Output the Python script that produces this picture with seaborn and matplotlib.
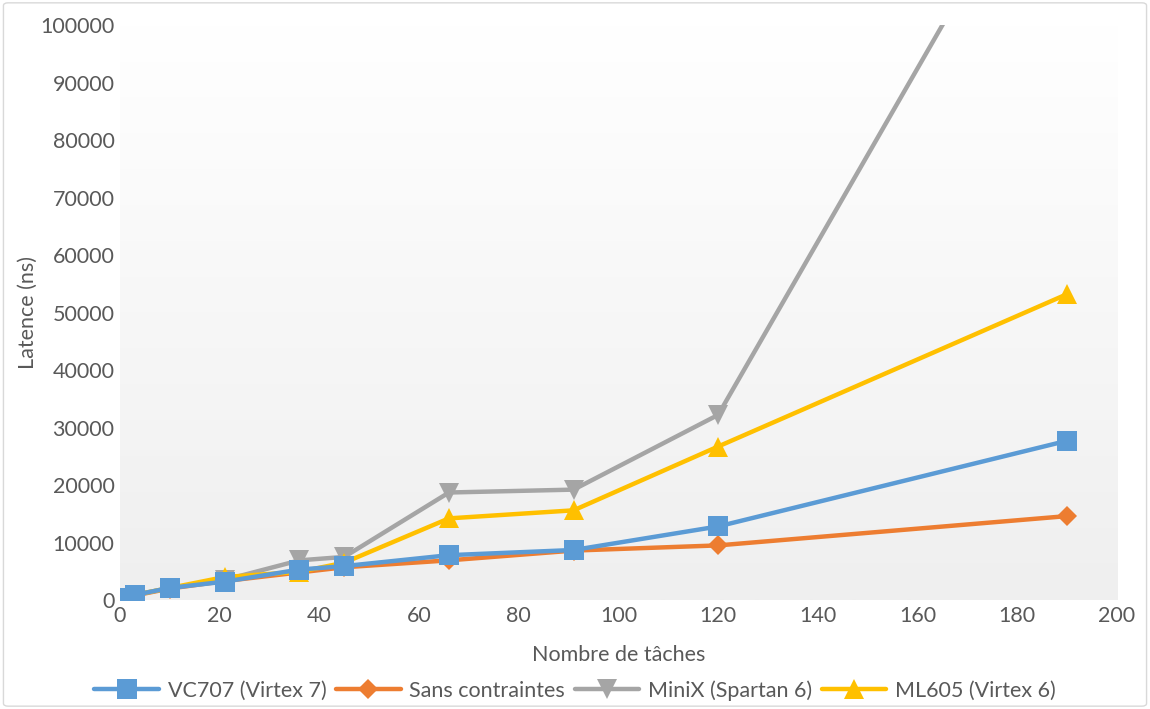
import numpy as np
import pandas as pd
import matplotlib
matplotlib.use("Agg")
import matplotlib.pyplot as plt
import seaborn as sns
from matplotlib.patches import FancyBboxPatch

# data
taches = [1, 3, 10, 21, 36, 45, 66, 91, 120, 190]
vc707 = [300, 900, 2100, 3200, 5300, 5900, 7800, 8700, 12800, 27700]
sans_contraintes = [300, 800, 2000, 3300, 4800, 5700, 6900, 8600, 9500, 14600]
minix = [300, 900, 2100, 3500, 6900, 7500, 18700, 19200, 32200, 137700]
ml605 = [300, 900, 2100, 4000, 4900, 6500, 14200, 15600, 26700, 53200]

series_names = ["VC707 (Virtex 7)", "Sans contraintes", "MiniX (Spartan 6)", "ML605 (Virtex 6)"]
series_values = [vc707, sans_contraintes, minix, ml605]
colors = ["#5B9BD5", "#ED7D31", "#A5A5A5", "#FFC000"]
markers = ["s", "D", "v", "^"]
marker_sizes = [15, 10, 14, 14]
zorders = [6, 3, 4, 5]   # blue squares sit on top in the original

df = pd.DataFrame({
    "taches": taches * 4,
    "latence": sum(series_values, []),
    "serie": [n for n in series_names for _ in taches],
})

sns.set_style("white")
plt.rcParams["font.family"] = ["Lato", "DejaVu Sans"]
fs = 15.5
grey_txt = "#595959"

fig = plt.figure(figsize=(11.5, 7.09), dpi=100)
ax = fig.add_axes([0.1043, 0.1537, 0.867, 0.811])

# light vertical gradient behind the plot area
grad = np.linspace(1.0, 0.0, 256).reshape(-1, 1)
cmap = matplotlib.colors.LinearSegmentedColormap.from_list("g", ["#efefef", "#ffffff"])
ax.imshow(grad, extent=[0, 200, 0, 100000], aspect="auto", cmap=cmap, zorder=0, origin="upper")

for name, color, m, ms, z in zip(series_names, colors, markers, marker_sizes, zorders):
    sub = df[df["serie"] == name]
    sns.lineplot(data=sub, x="taches", y="latence", ax=ax, color=color, lw=3.2,
                 marker=m, markersize=ms, markeredgewidth=0, label=name, zorder=z)

ax.set_xlim(0, 200)
ax.set_ylim(0, 100000)
ax.set_xticks(range(0, 201, 20))
ax.set_yticks(range(0, 100001, 10000))
ax.tick_params(labelsize=fs, colors=grey_txt, length=0, pad=4)
ax.set_xlabel("Nombre de tâches", fontsize=fs, color=grey_txt, labelpad=14)
ax.set_ylabel("Latence (ns)", fontsize=fs, color=grey_txt, labelpad=2)
for s in ax.spines.values():
    s.set_visible(False)

handles, labels = ax.get_legend_handles_labels()
ax.get_legend().remove()
fig.legend(handles, labels, loc="upper center", bbox_to_anchor=(0.5, 0.041), ncol=4,
           frameon=False, fontsize=fs, labelcolor=grey_txt, handlelength=3,
           columnspacing=0.45, handletextpad=0.4, borderaxespad=0, borderpad=0)

border = FancyBboxPatch((0.003, 0.004), 0.994, 0.992, boxstyle="round,pad=0,rounding_size=0.004",
                        transform=fig.transFigure, fill=False, edgecolor="#d9d9d9", lw=1)
fig.patches.append(border)

fig.savefig("out.png", dpi=100)
